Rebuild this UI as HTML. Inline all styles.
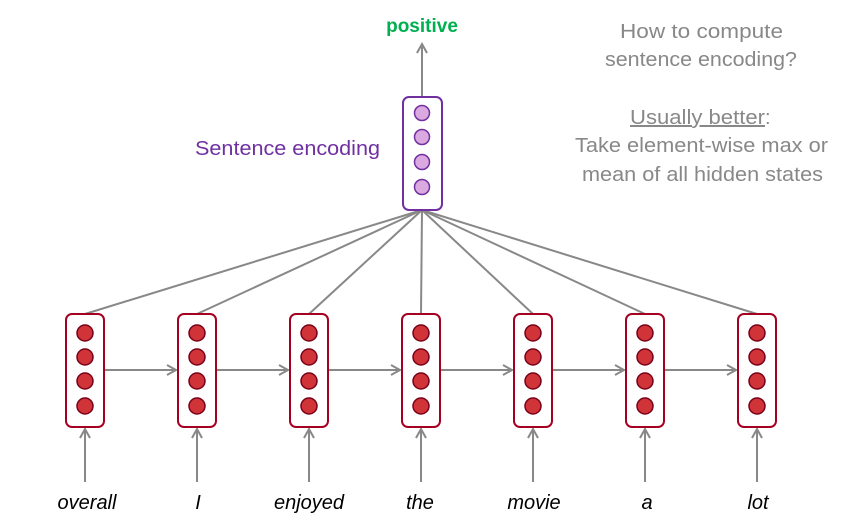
<!DOCTYPE html>
<html><head><style>body{margin:0;background:#fff}svg{display:block}</style></head><body>
<svg width="864" height="528" viewBox="0 0 864 528" xmlns="http://www.w3.org/2000/svg" font-family="Liberation Sans, sans-serif">
<defs><marker id="a" markerWidth="12" markerHeight="12" refX="10" refY="6" orient="auto" markerUnits="userSpaceOnUse"><path d="M1,1 L10,6 L1,11" fill="none" stroke="#888" stroke-width="2"/></marker></defs>
<g stroke="#888" stroke-width="2" fill="none">
<line x1="85" y1="314" x2="422" y2="210"/><line x1="197" y1="314" x2="422" y2="210"/><line x1="309" y1="314" x2="422" y2="210"/><line x1="421" y1="314" x2="422" y2="210"/><line x1="533" y1="314" x2="422" y2="210"/><line x1="645" y1="314" x2="422" y2="210"/><line x1="757" y1="314" x2="422" y2="210"/>
<line x1="422" y1="96" x2="422" y2="44" marker-end="url(#a)"/>
<line x1="104" y1="370" x2="176" y2="370" marker-end="url(#a)"/><line x1="216" y1="370" x2="288" y2="370" marker-end="url(#a)"/><line x1="328" y1="370" x2="400" y2="370" marker-end="url(#a)"/><line x1="440" y1="370" x2="512" y2="370" marker-end="url(#a)"/><line x1="552" y1="370" x2="624" y2="370" marker-end="url(#a)"/><line x1="664" y1="370" x2="736" y2="370" marker-end="url(#a)"/>
<line x1="85" y1="482" x2="85" y2="429" marker-end="url(#a)"/><line x1="197" y1="482" x2="197" y2="429" marker-end="url(#a)"/><line x1="309" y1="482" x2="309" y2="429" marker-end="url(#a)"/><line x1="421" y1="482" x2="421" y2="429" marker-end="url(#a)"/><line x1="533" y1="482" x2="533" y2="429" marker-end="url(#a)"/><line x1="645" y1="482" x2="645" y2="429" marker-end="url(#a)"/><line x1="757" y1="482" x2="757" y2="429" marker-end="url(#a)"/>
</g>
<g id="b">
<rect x="66" y="314" width="38" height="113" rx="6" fill="#fff" stroke="#a50021" stroke-width="2"/>
<g fill="#d13438" stroke="#7a0019" stroke-width="1.5"><circle cx="85" cy="333" r="8"/><circle cx="85" cy="357" r="8"/><circle cx="85" cy="381" r="8"/><circle cx="85" cy="406" r="8"/></g>
</g>
<use href="#b" x="112"/><use href="#b" x="224"/><use href="#b" x="336"/><use href="#b" x="448"/><use href="#b" x="560"/><use href="#b" x="672"/>
<rect x="403" y="97" width="39" height="113" rx="6" fill="#fff" stroke="#7030a0" stroke-width="2"/>
<g fill="#d9a9e0" stroke="#7030a0" stroke-width="1.5"><circle cx="422" cy="113" r="7.5"/><circle cx="422" cy="137" r="7.5"/><circle cx="422" cy="162" r="7.5"/><circle cx="422" cy="187" r="7.5"/></g>
<text x="422" y="32" text-anchor="middle" font-weight="bold" font-size="19" fill="#00b050">positive</text>
<text x="195" y="155" font-size="20.5" fill="#7030a0" textLength="185" lengthAdjust="spacingAndGlyphs">Sentence encoding</text>
<g font-size="20" fill="#888">
<text x="620" y="38" textLength="163" lengthAdjust="spacingAndGlyphs">How to compute</text>
<text x="605" y="66" textLength="192" lengthAdjust="spacingAndGlyphs">sentence encoding?</text>
<text x="630" y="124"><tspan text-decoration="underline" textLength="135" lengthAdjust="spacingAndGlyphs">Usually better</tspan><tspan>:</tspan></text>
<text x="575" y="152" textLength="253" lengthAdjust="spacingAndGlyphs">Take element-wise max or</text>
<text x="582" y="181" textLength="241" lengthAdjust="spacingAndGlyphs">mean of all hidden states</text>
</g>
<g font-size="20" font-style="italic" fill="#000" text-anchor="middle">
<text x="87" y="509">overall</text><text x="198" y="509">I</text><text x="309" y="509">enjoyed</text><text x="420" y="509">the</text><text x="534" y="509">movie</text><text x="647" y="509">a</text><text x="758" y="509">lot</text>
</g>
</svg>
</body></html>
